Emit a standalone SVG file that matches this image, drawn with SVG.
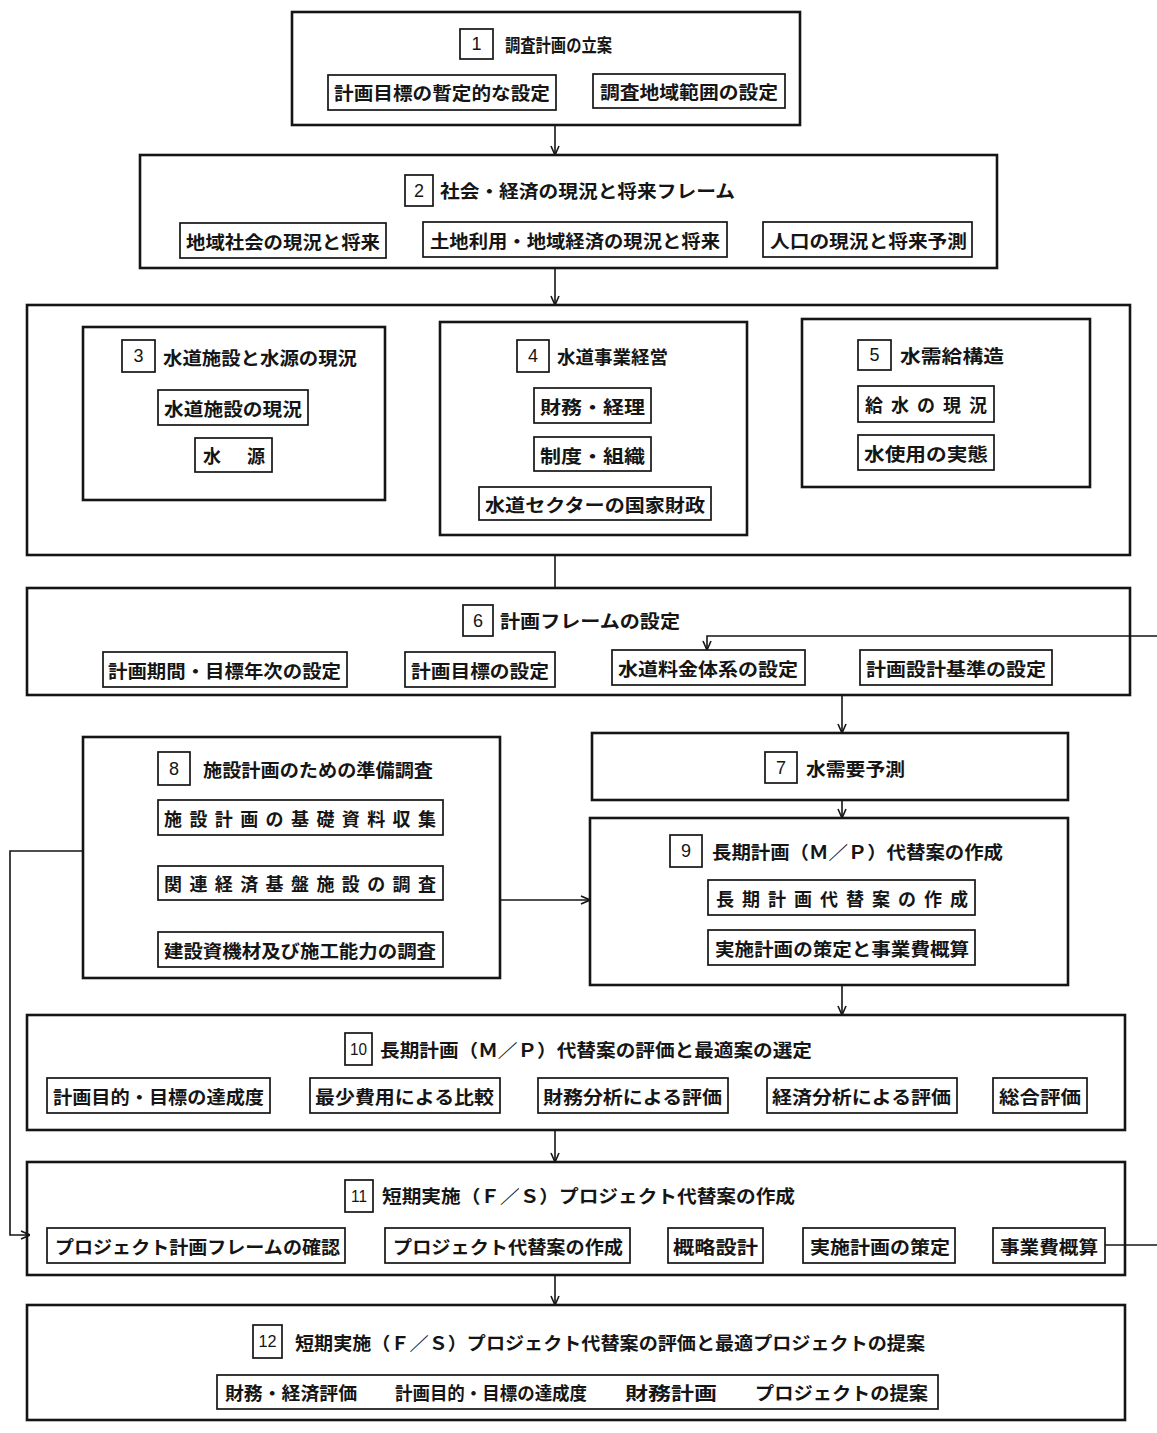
<svg xmlns="http://www.w3.org/2000/svg" width="1157" height="1433" viewBox="0 0 1157 1433">
<style>
.bg{fill:#ffffff}
.box{fill:none;stroke:#151515;stroke-width:2.6}
.sub{fill:none;stroke:#151515;stroke-width:1.7}
.num{fill:none;stroke:#151515;stroke-width:1.7}
.t{font-family:"Noto Sans CJK JP","Noto Sans CJK SC",sans-serif;font-size:18px;font-weight:bold;fill:#151515;dominant-baseline:central}
.n{font-family:"Liberation Sans",Arial,sans-serif;font-size:18px;fill:#151515;text-anchor:middle;dominant-baseline:central}
.n2{font-family:"Liberation Sans Narrow","Liberation Sans",Arial,sans-serif;font-size:16px;fill:#151515;text-anchor:middle;dominant-baseline:central}
.c{fill:none;stroke:#151515;stroke-width:1.6}
</style>
<defs>
<marker id="arr" viewBox="0 0 10 10" refX="10" refY="5" markerWidth="10" markerHeight="10" markerUnits="userSpaceOnUse" orient="auto">
<path d="M1,1 L10,5 L1,9" fill="none" stroke="#151515" stroke-width="1.6"/>
</marker>
</defs>
<rect class="bg" x="0" y="0" width="1157" height="1433"/>

<g id="connectors">
<line class="c" x1="555" y1="125" x2="555" y2="155" marker-end="url(#arr)"/>
<line class="c" x1="555" y1="268" x2="555" y2="305" marker-end="url(#arr)"/>
<line class="c" x1="555" y1="555" x2="555" y2="588"/>
<line class="c" x1="842" y1="695" x2="842" y2="733" marker-end="url(#arr)"/>
<line class="c" x1="842" y1="800" x2="842" y2="818" marker-end="url(#arr)"/>
<line class="c" x1="500" y1="900" x2="590" y2="900" marker-end="url(#arr)"/>
<polyline class="c" points="83,851 10,851 10,1235 30,1235" marker-end="url(#arr)"/>
<line class="c" x1="842" y1="985" x2="842" y2="1015" marker-end="url(#arr)"/>
<line class="c" x1="555" y1="1130" x2="555" y2="1162" marker-end="url(#arr)"/>
<line class="c" x1="555" y1="1275" x2="555" y2="1305" marker-end="url(#arr)"/>
<line class="c" x1="1105" y1="1245" x2="1157" y2="1245"/>
<polyline class="c" points="1157,636 707,636 707,650" marker-end="url(#arr)"/>
</g>

<g id="n1">
<rect class="box" x="292" y="12" width="508" height="113"/>
<rect class="num" x="460" y="29" width="33" height="30"/>
<text class="n" x="476.5" y="44">1</text>
<text class="t" x="505" y="44" textLength="107" lengthAdjust="spacingAndGlyphs">調査計画の立案</text>
<rect class="sub" x="328" y="75" width="228" height="35"/>
<text class="t" x="334" y="92" textLength="216" lengthAdjust="spacingAndGlyphs">計画目標の暫定的な設定</text>
<rect class="sub" x="593" y="74" width="192" height="34"/>
<text class="t" x="600" y="91" textLength="178" lengthAdjust="spacingAndGlyphs">調査地域範囲の設定</text>
</g>

<g id="n2">
<rect class="box" x="140" y="155" width="857" height="113"/>
<rect class="num" x="405" y="175" width="28" height="31"/>
<text class="n" x="419" y="190.5">2</text>
<text class="t" x="440" y="190" textLength="295" lengthAdjust="spacingAndGlyphs">社会・経済の現況と将来フレーム</text>
<rect class="sub" x="180" y="223" width="206" height="35"/>
<text class="t" x="186" y="241" textLength="194" lengthAdjust="spacingAndGlyphs">地域社会の現況と将来</text>
<rect class="sub" x="423" y="222" width="304" height="35"/>
<text class="t" x="430" y="240" textLength="290" lengthAdjust="spacingAndGlyphs">土地利用・地域経済の現況と将来</text>
<rect class="sub" x="763" y="222" width="209" height="35"/>
<text class="t" x="770" y="240" textLength="197" lengthAdjust="spacingAndGlyphs">人口の現況と将来予測</text>
</g>

<g id="n3-5">
<rect class="box" x="27" y="305" width="1103" height="250"/>
</g>

<g id="n3">
<rect class="box" x="83" y="327" width="302" height="173"/>
<rect class="num" x="122" y="340" width="33" height="32"/>
<text class="n" x="138.5" y="356">3</text>
<text class="t" x="163" y="357" textLength="194" lengthAdjust="spacingAndGlyphs">水道施設と水源の現況</text>
<rect class="sub" x="158" y="390" width="150" height="35"/>
<text class="t" x="164" y="408" textLength="138" lengthAdjust="spacingAndGlyphs">水道施設の現況</text>
<rect class="sub" x="195" y="438" width="77" height="34"/>
<text class="t" x="203" y="455" textLength="62" lengthAdjust="spacing">水源</text>
</g>

<g id="n4">
<rect class="box" x="440" y="322" width="307" height="213"/>
<rect class="num" x="517" y="340" width="32" height="32"/>
<text class="n" x="533" y="356">4</text>
<text class="t" x="557" y="356" textLength="111" lengthAdjust="spacingAndGlyphs">水道事業経営</text>
<rect class="sub" x="534" y="388" width="117" height="35"/>
<text class="t" x="540" y="406" textLength="105" lengthAdjust="spacingAndGlyphs">財務・経理</text>
<rect class="sub" x="534" y="437" width="117" height="34"/>
<text class="t" x="540" y="455" textLength="105" lengthAdjust="spacingAndGlyphs">制度・組織</text>
<rect class="sub" x="479" y="487" width="232" height="33"/>
<text class="t" x="485" y="504" textLength="220" lengthAdjust="spacingAndGlyphs">水道セクターの国家財政</text>
</g>

<g id="n5">
<rect class="box" x="802" y="319" width="288" height="168"/>
<rect class="num" x="858" y="340" width="33" height="30"/>
<text class="n" x="874.5" y="355">5</text>
<text class="t" x="900" y="355" textLength="104" lengthAdjust="spacingAndGlyphs">水需給構造</text>
<rect class="sub" x="858" y="386" width="136" height="36"/>
<text class="t" x="865" y="404" textLength="122" lengthAdjust="spacing">給水の現況</text>
<rect class="sub" x="858" y="435" width="136" height="35"/>
<text class="t" x="864" y="453" textLength="124" lengthAdjust="spacingAndGlyphs">水使用の実態</text>
</g>

<g id="n6">
<rect class="box" x="27" y="588" width="1103" height="107"/>
<rect class="num" x="463" y="605" width="30" height="31"/>
<text class="n" x="478" y="620.5">6</text>
<text class="t" x="500" y="620" textLength="180" lengthAdjust="spacingAndGlyphs">計画フレームの設定</text>
<rect class="sub" x="103" y="652" width="244" height="35"/>
<text class="t" x="108" y="670" textLength="233" lengthAdjust="spacingAndGlyphs">計画期間・目標年次の設定</text>
<rect class="sub" x="405" y="652" width="150" height="35"/>
<text class="t" x="411" y="670" textLength="138" lengthAdjust="spacingAndGlyphs">計画目標の設定</text>
<rect class="sub" x="612" y="650" width="193" height="35"/>
<text class="t" x="618" y="668" textLength="180" lengthAdjust="spacingAndGlyphs">水道料金体系の設定</text>
<rect class="sub" x="860" y="650" width="192" height="35"/>
<text class="t" x="866" y="668" textLength="180" lengthAdjust="spacingAndGlyphs">計画設計基準の設定</text>
</g>

<g id="n7">
<rect class="box" x="592" y="733" width="476" height="67"/>
<rect class="num" x="765" y="752" width="32" height="31"/>
<text class="n" x="781" y="767.5">7</text>
<text class="t" x="806" y="768" textLength="99" lengthAdjust="spacingAndGlyphs">水需要予測</text>
</g>

<g id="n8">
<rect class="box" x="83" y="737" width="417" height="241"/>
<rect class="num" x="158" y="752" width="32" height="33"/>
<text class="n" x="174" y="768.5">8</text>
<text class="t" x="203" y="769" textLength="230" lengthAdjust="spacingAndGlyphs">施設計画のための準備調査</text>
<rect class="sub" x="158" y="800" width="285" height="35"/>
<text class="t" x="164" y="818" textLength="272" lengthAdjust="spacing">施設計画の基礎資料収集</text>
<rect class="sub" x="158" y="866" width="285" height="34"/>
<text class="t" x="164" y="883" textLength="272" lengthAdjust="spacing">関連経済基盤施設の調査</text>
<rect class="sub" x="158" y="932" width="285" height="35"/>
<text class="t" x="164" y="950" textLength="272" lengthAdjust="spacingAndGlyphs">建設資機材及び施工能力の調査</text>
</g>

<g id="n9">
<rect class="box" x="590" y="818" width="478" height="167"/>
<rect class="num" x="670" y="835" width="32" height="32"/>
<text class="n" x="686" y="851">9</text>
<text class="t" x="712" y="851" textLength="291" lengthAdjust="spacingAndGlyphs">長期計画（Ｍ／Ｐ）代替案の作成</text>
<rect class="sub" x="708" y="880" width="267" height="35"/>
<text class="t" x="716" y="898" textLength="252" lengthAdjust="spacing">長期計画代替案の作成</text>
<rect class="sub" x="708" y="930" width="267" height="35"/>
<text class="t" x="715" y="948" textLength="254" lengthAdjust="spacingAndGlyphs">実施計画の策定と事業費概算</text>
</g>

<g id="n10">
<rect class="box" x="27" y="1015" width="1098" height="115"/>
<rect class="num" x="345" y="1033" width="27" height="32"/>
<text class="n2" x="358.5" y="1049" textLength="17" lengthAdjust="spacingAndGlyphs">10</text>
<text class="t" x="380" y="1049" textLength="432" lengthAdjust="spacingAndGlyphs">長期計画（Ｍ／Ｐ）代替案の評価と最適案の選定</text>
<rect class="sub" x="47" y="1078" width="223" height="35"/>
<text class="t" x="53" y="1096" textLength="211" lengthAdjust="spacingAndGlyphs">計画目的・目標の達成度</text>
<rect class="sub" x="310" y="1078" width="190" height="35"/>
<text class="t" x="315" y="1096" textLength="179" lengthAdjust="spacingAndGlyphs">最少費用による比較</text>
<rect class="sub" x="538" y="1078" width="190" height="35"/>
<text class="t" x="543" y="1096" textLength="179" lengthAdjust="spacingAndGlyphs">財務分析による評価</text>
<rect class="sub" x="767" y="1078" width="190" height="35"/>
<text class="t" x="772" y="1096" textLength="179" lengthAdjust="spacingAndGlyphs">経済分析による評価</text>
<rect class="sub" x="993" y="1078" width="94" height="35"/>
<text class="t" x="999" y="1096" textLength="82" lengthAdjust="spacingAndGlyphs">総合評価</text>
</g>

<g id="n11">
<rect class="box" x="27" y="1162" width="1098" height="113"/>
<rect class="num" x="345" y="1180" width="28" height="32"/>
<text class="n2" x="359" y="1196" textLength="16" lengthAdjust="spacingAndGlyphs">11</text>
<text class="t" x="382" y="1195" textLength="413" lengthAdjust="spacingAndGlyphs">短期実施（Ｆ／Ｓ）プロジェクト代替案の作成</text>
<rect class="sub" x="47" y="1228" width="298" height="35"/>
<text class="t" x="55" y="1246" textLength="285" lengthAdjust="spacingAndGlyphs">プロジェクト計画フレームの確認</text>
<rect class="sub" x="385" y="1228" width="245" height="35"/>
<text class="t" x="393" y="1246" textLength="230" lengthAdjust="spacingAndGlyphs">プロジェクト代替案の作成</text>
<rect class="sub" x="668" y="1228" width="95" height="35"/>
<text class="t" x="673" y="1246" textLength="85" lengthAdjust="spacingAndGlyphs">概略設計</text>
<rect class="sub" x="803" y="1228" width="152" height="35"/>
<text class="t" x="810" y="1246" textLength="140" lengthAdjust="spacingAndGlyphs">実施計画の策定</text>
<rect class="sub" x="993" y="1228" width="112" height="35"/>
<text class="t" x="1000" y="1246" textLength="98" lengthAdjust="spacingAndGlyphs">事業費概算</text>
</g>

<g id="n12">
<rect class="box" x="27" y="1305" width="1098" height="115"/>
<rect class="num" x="253" y="1325" width="29" height="33"/>
<text class="n2" x="267.5" y="1341.5" textLength="18" lengthAdjust="spacingAndGlyphs">12</text>
<text class="t" x="295" y="1342" textLength="630" lengthAdjust="spacingAndGlyphs">短期実施（Ｆ／Ｓ）プロジェクト代替案の評価と最適プロジェクトの提案</text>
<rect class="sub" x="217" y="1375" width="721" height="34"/>
<text class="t" x="225" y="1392" textLength="132" lengthAdjust="spacingAndGlyphs">財務・経済評価</text>
<text class="t" x="395" y="1392" textLength="192" lengthAdjust="spacingAndGlyphs">計画目的・目標の達成度</text>
<text class="t" x="625" y="1392" textLength="92" lengthAdjust="spacingAndGlyphs">財務計画</text>
<text class="t" x="755" y="1392" textLength="173" lengthAdjust="spacingAndGlyphs">プロジェクトの提案</text>
</g>
</svg>
